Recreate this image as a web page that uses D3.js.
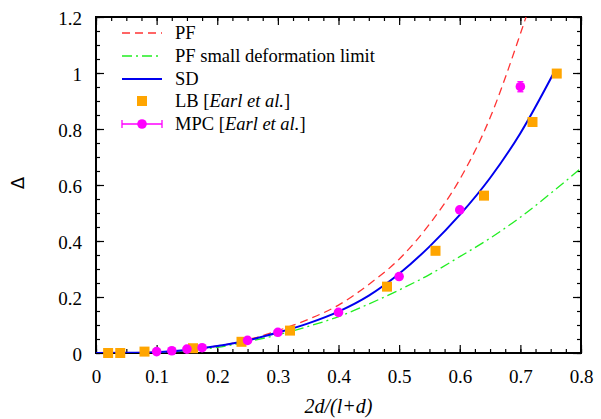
<!DOCTYPE html>
<html>
<head>
<meta charset="utf-8">
<title>Delta vs 2d/(l+d)</title>
<script src="https://d3js.org/d3.v7.min.js"></script>
<style>
body { margin: 0; background: #fff; }
</style>
</head>
<body>
<script>
// ---- data ----
var pfX  = [0, 0.1, 0.2, 0.25, 0.3, 0.35, 0.4, 0.45, 0.5, 0.55, 0.6, 0.65, 0.7, 0.72];
var pfY  = [0, 0.003, 0.025, 0.047, 0.08, 0.12, 0.171, 0.245, 0.335, 0.46, 0.62, 0.84, 1.14, 1.27];

var sdlX = [0, 0.1, 0.2, 0.25, 0.3, 0.35, 0.4, 0.45, 0.5, 0.55, 0.6, 0.65, 0.7, 0.75, 0.8];
var sdlY = [0, 0.002, 0.02, 0.04, 0.065, 0.095, 0.13, 0.175, 0.225, 0.28, 0.344, 0.41, 0.485, 0.57, 0.66];

var sdX  = [0, 0.05, 0.1, 0.15, 0.2, 0.25, 0.3, 0.35, 0.4, 0.45, 0.5, 0.55, 0.6, 0.65, 0.7, 0.755];
var sdY  = [0, 0.0005, 0.003, 0.011, 0.025, 0.045, 0.073, 0.106, 0.148, 0.205, 0.283, 0.38, 0.493, 0.625, 0.785, 1.0];

var lbX  = [0.02, 0.04, 0.08, 0.16, 0.24, 0.32, 0.48, 0.56, 0.64, 0.72, 0.76];
var lbY  = [0, 0, 0.005, 0.017, 0.04, 0.08, 0.237, 0.365, 0.562, 0.825, 0.998];

var mpcX   = [0.10, 0.125, 0.15, 0.175, 0.25, 0.30, 0.40, 0.50, 0.60, 0.70];
var mpcY   = [0.005, 0.008, 0.014, 0.019, 0.045, 0.074, 0.145, 0.273, 0.511, 0.951];
var mpcErr = [0.001, 0.001, 0.002, 0.002, 0.003, 0.003, 0.004, 0.005, 0.008, 0.018];

var xTicks = [0, 0.1, 0.2, 0.3, 0.4, 0.5, 0.6, 0.7, 0.8];
var yTicks = [0, 0.2, 0.4, 0.6, 0.8, 1.0, 1.2];
var legendLabels = ["PF", "PF small deformation limit", "SD", "LB", "MPC"];

var SERIF = "'Liberation Serif', 'DejaVu Serif', 'Times New Roman', Times, serif";

// ---- layout ----
var W = 601, H = 419;
var m = {left: 96, right: 20, top: 17, bottom: 66};
var pw = W - m.left - m.right, ph = H - m.top - m.bottom;

var x = d3.scaleLinear().domain([0, 0.8]).range([0, pw]);
var y = d3.scaleLinear().domain([0, 1.2]).range([ph, 0]);

var svg = d3.select("body").append("svg").attr("width", W).attr("height", H);
var g = svg.append("g").attr("transform", "translate(" + m.left + "," + m.top + ")");

svg.append("defs").append("clipPath").attr("id", "plotclip")
  .append("rect").attr("width", pw).attr("height", ph);

// minor + major ticks, all pointing inward
var xMinor = d3.range(0, 0.8001, 0.025);
var yMinor = d3.range(0, 1.2001, 0.05);

function styleAxis(sel) {
  sel.attr("font-family", null);
  sel.select(".domain").remove();
  sel.selectAll("line").attr("stroke", "#000").attr("stroke-width", 1.2);
  sel.selectAll("text").style("font-family", SERIF).style("font-size", "19px").attr("fill", "#000");
}

g.append("g").attr("transform", "translate(0," + ph + ")")
  .call(d3.axisBottom(x).tickValues(xMinor).tickSize(-4).tickFormat(""))
  .call(styleAxis);
g.append("g").attr("transform", "translate(0," + ph + ")")
  .call(d3.axisBottom(x).tickValues(xTicks).tickSize(-8).tickPadding(17).tickFormat(function(d){ return d === 0 ? "0" : d3.format(".1f")(d); }))
  .call(styleAxis);
g.append("g")
  .call(d3.axisTop(x).tickValues(xMinor).tickSize(-4).tickFormat(""))
  .call(styleAxis);
g.append("g")
  .call(d3.axisTop(x).tickValues(xTicks).tickSize(-8).tickFormat(""))
  .call(styleAxis);

g.append("g")
  .call(d3.axisLeft(y).tickValues(yMinor).tickSize(-4).tickFormat(""))
  .call(styleAxis);
g.append("g")
  .call(d3.axisLeft(y).tickValues(yTicks).tickSize(-8).tickPadding(14).tickFormat(function(d){ return d === 0 || d === 1 ? String(d) : d3.format(".1f")(d); }))
  .call(styleAxis)
  .selectAll("text").attr("dy", "0.42em");
g.append("g").attr("transform", "translate(" + pw + ",0)")
  .call(d3.axisRight(y).tickValues(yMinor).tickSize(-4).tickFormat(""))
  .call(styleAxis);
g.append("g").attr("transform", "translate(" + pw + ",0)")
  .call(d3.axisRight(y).tickValues(yTicks).tickSize(-8).tickFormat(""))
  .call(styleAxis);

// frame
g.append("rect").attr("width", pw).attr("height", ph)
  .attr("fill", "none").attr("stroke", "#000").attr("stroke-width", 2);

// axis titles
svg.append("text").attr("x", m.left + pw / 2).attr("y", 413)
  .attr("text-anchor", "middle")
  .style("font-family", SERIF).style("font-size", "20px").style("font-style", "italic")
  .text("2d/(l+d)");
svg.append("text").attr("transform", "translate(18,183) rotate(-90)")
  .attr("text-anchor", "middle").attr("dy", "0.35em")
  .style("font-size", "18px").style("font-family", "'DejaVu Sans', sans-serif")
  .text("\u0394");

// ---- curves ----
var curves = [
  {xs: pfX,  ys: pfY,  color: "#ff3333", dash: "8,5",       width: 1.3},
  {xs: sdlX, ys: sdlY, color: "#22ee22", dash: "10,4,2,4",  width: 1.3},
  {xs: sdX,  ys: sdY,  color: "#0000ee", dash: null,        width: 2}
];
var line = d3.line().x(function(d){ return x(d[0]); }).y(function(d){ return y(d[1]); })
  .curve(d3.curveMonotoneX);

var cg = g.append("g").attr("clip-path", "url(#plotclip)");
curves.forEach(function(c) {
  var pts = c.xs.map(function(v, i){ return [v, c.ys[i]]; });
  cg.append("path").datum(pts)
    .attr("d", line).attr("fill", "none")
    .attr("stroke", c.color).attr("stroke-width", c.width)
    .attr("stroke-dasharray", c.dash);
});

// ---- LB squares ----
var sq = 10;
g.selectAll("rect.lb").data(lbX).enter().append("rect")
  .attr("class", "lb")
  .attr("x", function(d){ return x(d) - sq / 2; })
  .attr("y", function(d, i){ return y(lbY[i]) - sq / 2; })
  .attr("width", sq).attr("height", sq)
  .attr("fill", "#ffa500");

// ---- MPC points with error bars ----
var mg = g.selectAll("g.mpc").data(mpcX).enter().append("g").attr("class", "mpc");
mg.append("line")
  .attr("x1", function(d){ return x(d); }).attr("x2", function(d){ return x(d); })
  .attr("y1", function(d, i){ return y(mpcY[i] - mpcErr[i]); })
  .attr("y2", function(d, i){ return y(mpcY[i] + mpcErr[i]); })
  .attr("stroke", "#ff00ff").attr("stroke-width", 1.3);
[-1, 1].forEach(function(s) {
  mg.append("line")
    .attr("x1", function(d){ return x(d) - 3; }).attr("x2", function(d){ return x(d) + 3; })
    .attr("y1", function(d, i){ return y(mpcY[i] + s * mpcErr[i]); })
    .attr("y2", function(d, i){ return y(mpcY[i] + s * mpcErr[i]); })
    .attr("stroke", "#ff00ff").attr("stroke-width", 1.3);
});
mg.append("circle")
  .attr("cx", function(d){ return x(d); })
  .attr("cy", function(d, i){ return y(mpcY[i]); })
  .attr("r", 4.8).attr("fill", "#ff00ff");

// ---- legend ----
var lx0 = 122, lx1 = 162, ltx = 175;
var ly = [33, 56, 79, 101, 124];
var lg = svg.append("g");
curves.forEach(function(c, i) {
  lg.append("line").attr("x1", lx0).attr("x2", lx1).attr("y1", ly[i]).attr("y2", ly[i])
    .attr("stroke", c.color).attr("stroke-width", c.width).attr("stroke-dasharray", c.dash);
});
lg.append("rect").attr("x", 142 - sq / 2).attr("y", ly[3] - sq / 2).attr("width", sq).attr("height", sq)
  .attr("fill", "#ffa500");
lg.append("line").attr("x1", lx0).attr("x2", lx1).attr("y1", ly[4]).attr("y2", ly[4])
  .attr("stroke", "#ff00ff").attr("stroke-width", 1.3);
[lx0, lx1].forEach(function(cx) {
  lg.append("line").attr("x1", cx).attr("x2", cx).attr("y1", ly[4] - 4).attr("y2", ly[4] + 4)
    .attr("stroke", "#ff00ff").attr("stroke-width", 1.3);
});
lg.append("circle").attr("cx", 142).attr("cy", ly[4]).attr("r", 4.8).attr("fill", "#ff00ff");

legendLabels.forEach(function(t, i) {
  var tx = lg.append("text").attr("x", ltx).attr("y", ly[i]).attr("dy", "0.35em")
    .style("font-family", SERIF).style("font-size", "18.5px").text(t);
  if (i >= 3) {
    tx.append("tspan").text(" [");
    tx.append("tspan").style("font-style", "italic").text("Earl et al.");
    tx.append("tspan").text("]");
  }
});
</script>
</body>
</html>
